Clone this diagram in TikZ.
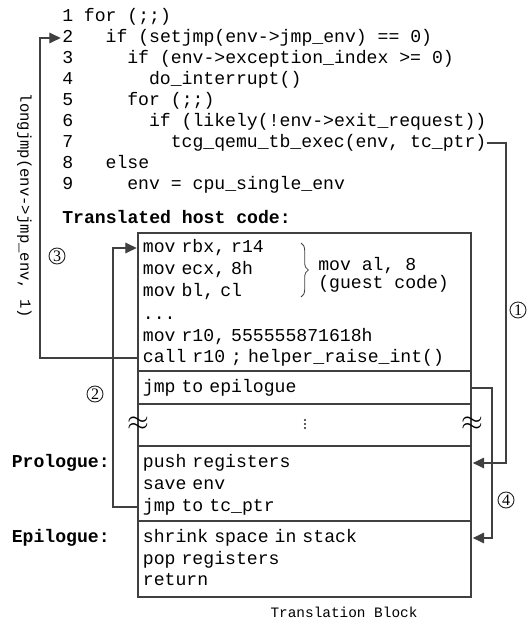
\documentclass[tikz,border=0pt]{standalone}
\usepackage{fontspec}
\setmainfont{Liberation Serif}
\setmonofont{Liberation Mono}
\usetikzlibrary{arrows.meta,decorations.pathreplacing}
\begin{document}
\begin{tikzpicture}[x=0.75pt, y=-0.75pt,
    ln/.style={font=\fontsize{13.6}{15}\ttfamily, anchor=west, inner sep=0pt, text height=10pt, text depth=3pt},
    tb/.style={ln, inner xsep=3.5pt, text width=242.75pt, align=left},
    lbl/.style={ln, font=\fontsize{13.6}{15}\ttfamily\bfseries},
    num/.style={circle, draw=black!85, line width=0.7pt, inner sep=0pt, minimum size=12pt, font=\fontsize{12}{12}\selectfont},
    wire/.style={draw=black!75, line width=0.8pt},
    arr/.style={wire, -{Triangle[length=8.5pt, width=8pt]}, shorten >=1pt}]
    \useasboundingbox (0,0) rectangle (526,624);
    \foreach \n/\ind/\code in {1/0/{for (;;)}, 2/1/{if (setjmp(env->jmp\_env) == 0)}, 3/2/{if (env->exception\_index >= 0)}, 4/3/{do\_interrupt()}, 5/2/{for (;;)}, 6/3/{if (likely(!env->exit\_request))}, 7/4/{tcg\_qemu\_tb\_exec(env, tc\_ptr)}, 8/1/{else}, 9/2/{env = cpu\_single\_env}}
        {\node[ln] (l\n) at (62,{17+21*(\n-1)}) {\n}; \node[ln] (c\n) at ({62+(2+2*\ind)*10.85},{17+21*(\n-1)}) {\code};}
    \node[lbl] (thc) at (62,219) {Translated host code:};
    \foreach \a/\b in {233/371, 371/404, 404/446, 446/521, 521/597} \draw[wire] (138,\a) rectangle (471,\b);
    \foreach \n/\y/\code in {1/248/{mov rbx, r14}, 2/270/{mov ecx, 8h}, 3/292/{mov bl, cl}, 4/315/{...}, 5/337/{mov r10, 555555871618h}, 6/358/{call r10 ; helper\_raise\_int()}} \node[tb] (h\n) at (138,\y) {\code};
    \node[tb] (epj) at (138,388) {jmp to epilogue};
    \foreach \n/\y/\code in {1/463/{push registers}, 2/485/{save env}, 3/507/{jmp to tc\_ptr}} \node[tb] (pr\n) at (138,\y) {\code};
    \foreach \n/\y/\code in {1/538/{shrink space in stack}, 2/560/{pop registers}, 3/581/{return}} \node[tb] (ep\n) at (138,\y) {\code};
    \draw[wire, line width=0.6pt, decorate, decoration={brace, amplitude=5.5pt}] (301,243) -- (301,297);
    \node[font=\fontsize{13.6}{12}\ttfamily, anchor=west, inner sep=0pt, align=left] (guest) at (318,275) {mov al, 8\\(guest code)};
    \foreach \x in {138,472} \node[scale=2.1, inner sep=0pt] (ap\x) at (\x,424) {$\approx$};
    \foreach \d in {-4,0,4} \fill[black!85] (305,424+\d) circle (1.1);
    \node[lbl, anchor=east] (pro) at (110,463) {Prologue:};
    \node[lbl, anchor=east] (epi) at (110,538) {Epilogue:};
    \node[ln, anchor=center, font=\fontsize{10.8}{12}\ttfamily] (cap) at (344,613) {Translation Block};
    \node[ln, anchor=center, rotate=-90, font=\fontsize{11.7}{12}\ttfamily] (ljt) at (25,206) {longjmp(env->jmp\_env, 1)};
    \coordinate (lj) at (40,0); \coordinate (j2) at (113,0); \coordinate (r4) at (492,0); \coordinate (r1) at (506,0);
    \draw[arr] (h6.west) -- (h6.west -| lj) |- (l2.west);
    \draw[arr] (pr3.west) -- (pr3.west -| j2) |- (h1.west);
    \draw[arr] (c7.east) -- (c7.east -| r1) |- (pr1.east);
    \draw[arr] (epj.east) -- (epj.east -| r4) |- (ep1.east);
    \foreach \n/\x/\y in {1/518/310, 2/95/394, 3/57/256, 4/506/500} \node[num] (n\n) at (\x,\y) {\n};
\end{tikzpicture}
\end{document}
